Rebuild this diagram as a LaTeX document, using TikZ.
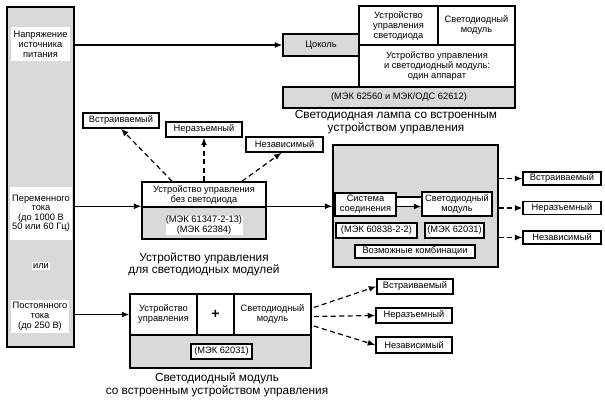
\documentclass[tikz,border=0pt]{standalone}
\usepackage{fontspec}
\setmainfont{Liberation Sans}
\usetikzlibrary{arrows.meta}
\definecolor{lg}{gray}{0.85}
\tikzset{
  bx/.style={draw, line width=1.5pt, fill=white, inner sep=0pt, align=center,
    font=\fontsize{9.3}{10}\selectfont},
  gbx/.style={bx, fill=lg},
  lbl/.style={fill=white, inner sep=0pt, align=center, font=\fontsize{9.3}{10}\selectfont},
  captxt/.style={inner sep=0pt, align=center, font=\fontsize{11.8}{12.5}\selectfont},
  arr/.style={line width=1.2pt, -{Latex[length=7.5pt,width=6pt]}},
  darr/.style={arr, dash pattern=on 5pt off 3.5pt},
  sz/.style 2 args={minimum width=#1pt, minimum height=#2pt},
}
\begin{document}
\begin{tikzpicture}[x=1pt,y=-1pt]
\useasboundingbox (0,0) rectangle (605,406);
% left column
\node[gbx, sz={67}{340}] (L) at (40.5,177) {};
\node[lbl, sz={59}{34}] (L1) at (40.5,44) {Напряжение\\источника\\питания};
\node[lbl, sz={62}{53}, font=\fontsize{9.3}{9.5}\selectfont] (L2) at (41,213.5) {Переменного\\тока\\(до 1000 В\\50 или 60 Гц)};
\node[lbl, inner sep=1.5pt] (L3) at (41,266) {или};
\node[lbl, sz={58}{33}] (L4) at (40,316.5) {Постоянного\\тока\\(до 250 В)};
% lamp
\node[gbx, sz={76}{22}] (T) at (321,45) {Цоколь};
\node[bx, sz={79}{39}] (U1) at (398.5,25.5) {Устройство\\управления\\светодиода};
\node[bx, sz={77}{39}] (U2) at (476.5,25.5) {Светодиодный\\модуль};
\node[bx, sz={156}{42}] (U3) at (437,66) {Устройство управления\\и светодиодный модуль:\\один аппарат};
\node[gbx, sz={232}{21}] (U4) at (399,97.5) {(МЭК 62560 и МЭК/ОДС 62612)};
\node[captxt] (C1) at (396,122) {Светодиодная лампа со встроенным\\устройством управления};
\draw[arr] (L.east |- T.west) -- (T.west);
% controlgear
\node[bx, sz={124}{25}] (CG) at (204,194.5) {Устройство управления\\без светодиода};
\node[gbx, sz={124}{32}] (CGb) at (204,223) {};
\node[lbl, sz={77}{19}] (CGt) at (204,225.5) {(МЭК 61347-2-13)\\(МЭК 62384)};
\node[captxt] (C2) at (204,264.5) {Устройство управления\\для светодиодных модулей};
\node[bx, sz={76}{15}] (D1) at (121,120.5) {Встраиваемый};
\node[bx, sz={76}{15}] (D2) at (204,129.5) {Неразъемный};
\node[bx, sz={77}{15}] (D3) at (284.5,144.5) {Независимый};
\draw[darr] ([xshift=-32pt]CG.north) -- (D1.south);
\draw[darr] (CG.north) -- (D2.south);
\draw[darr] ([xshift=38pt]CG.north) -- ([xshift=-3pt]D3.south);
% big gray box
\node[gbx, sz={165}{122}] (B) at (415.5,206) {};
\draw[arr] (L.east |- CGb.north) -- (CGb.north west);
\draw[arr] (CGb.north east) -- (B.west |- CGb.north);
\node[bx, sz={61}{23}] (S1) at (365.5,204.5) {Система\\соединения};
\node[bx, sz={70}{24}] (S2) at (457,204) {Светодиодный\\модуль};
\fill[white] ([yshift=7.5pt]S1.east) rectangle ([yshift=-2.5pt]S2.west);
\draw[line width=1.2pt] ([yshift=7.5pt]S1.east) -- ([yshift=7.5pt]S1.east -| S2.west);
\draw[arr] ([yshift=-2pt]S1.east) -- ([yshift=-2pt]S1.east -| S2.west);
\node[bx, sz={81}{15}] (S3) at (376.5,230.5) {(МЭК 60838-2-2)};
\node[bx, sz={59}{15}] (S4) at (454.5,230.5) {(МЭК 62031)};
\node[bx, sz={120}{13}] (S5) at (415,251.5) {Возможные комбинации};
\node[bx, sz={78}{13}] (R1) at (562,178.5) {Встраиваемый};
\node[bx, sz={78}{13}] (R2) at (562,208) {Неразъемный};
\node[bx, sz={78}{13}] (R3) at (562,237.5) {Независимый};
\draw[darr] (B.east |- R1.west) -- (R1.west);
\draw[darr] (B.east |- R2.west) -- (R2.west);
\draw[darr] (B.east |- R3.west) -- (R3.west);
% bottom module
\node[bx, sz={67}{41}] (M1) at (163.5,314.5) {Устройство\\управления};
\node[bx, sz={37}{41}, font=\fontsize{14}{14}\selectfont\bfseries] (M2) at (215.5,314.5) {+};
\node[bx, sz={77}{41}] (M3) at (272.5,314.5) {Светодиодный\\модуль};
\node[gbx, sz={181}{33}] (M4) at (220.5,351.5) {};
\node[bx, sz={61}{15}] (M5) at (221.5,351.5) {(МЭК 62031)};
\node[captxt] (C3) at (217,385) {Светодиодный модуль\\со встроенным устройством управления};
\draw[arr] (L.east |- M1.west) -- (M1.west);
\node[bx, sz={76}{15}] (N1) at (415,286.5) {Встраиваемый};
\node[bx, sz={76}{15}] (N2) at (414,315.5) {Неразъемный};
\node[bx, sz={76}{16}] (N3) at (414,345) {Независимый};
\draw[darr] ([yshift=7pt,xshift=2pt]M3.east) -- (N1.west);
\draw[darr] ([yshift=-2pt,xshift=2pt]M3.east) -- (N2.west);
\draw[darr] ([yshift=-11.5pt,xshift=2pt]M3.east) -- (N3.west);
\end{tikzpicture}
\end{document}
